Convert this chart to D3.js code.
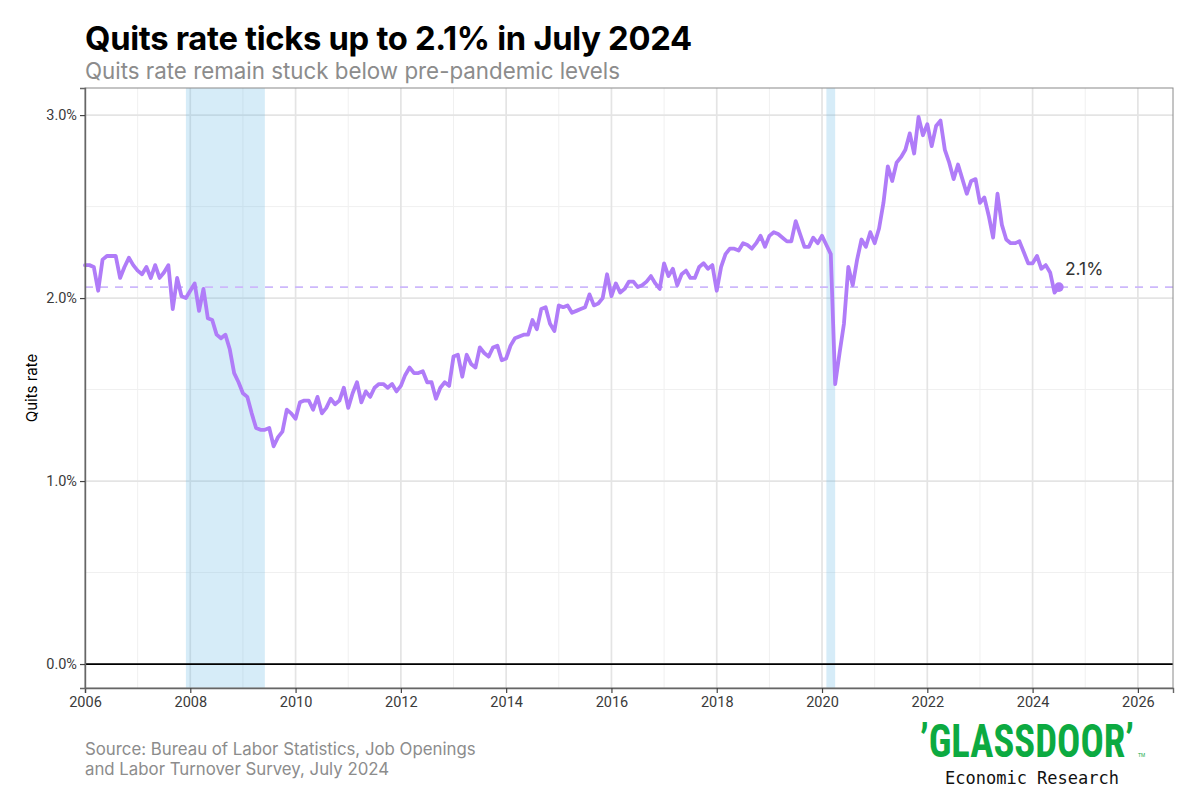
<!DOCTYPE html>
<html><head><meta charset="utf-8">
<script src="https://cdn.jsdelivr.net/npm/d3@7"></script>
<style>body{margin:0;background:#fff}svg{display:block}</style>
</head><body><svg id="c" width="1200" height="800"></svg>
<script>
// ---- data ----
const startYear = 2006; // first observation: January 2006, monthly
const quitsRate = [
2.18,2.18,2.17,2.04,2.21,2.23,2.23,2.23,2.11,2.17,2.22,2.18,
2.15,2.13,2.17,2.11,2.18,2.11,2.14,2.18,1.94,2.11,2.01,2.00,
2.04,2.08,1.93,2.05,1.89,1.88,1.80,1.78,1.80,1.72,1.59,1.54,
1.48,1.46,1.37,1.29,1.28,1.28,1.29,1.19,1.24,1.27,1.39,1.37,
1.34,1.43,1.44,1.44,1.39,1.46,1.37,1.40,1.45,1.42,1.44,1.51,
1.40,1.48,1.54,1.43,1.49,1.46,1.51,1.53,1.53,1.51,1.53,1.49,
1.52,1.58,1.62,1.59,1.59,1.60,1.54,1.54,1.45,1.51,1.54,1.52,
1.68,1.69,1.57,1.69,1.64,1.62,1.73,1.70,1.68,1.73,1.74,1.66,
1.67,1.74,1.78,1.79,1.80,1.80,1.88,1.83,1.94,1.95,1.86,1.82,
1.96,1.95,1.96,1.92,1.93,1.94,1.95,2.02,1.96,1.97,2.00,2.13,
2.01,2.08,2.03,2.05,2.09,2.09,2.06,2.07,2.09,2.12,2.08,2.05,
2.19,2.12,2.16,2.07,2.13,2.15,2.11,2.11,2.17,2.19,2.16,2.18,
2.04,2.17,2.24,2.27,2.27,2.26,2.30,2.29,2.27,2.30,2.34,2.28,
2.34,2.36,2.35,2.33,2.31,2.31,2.42,2.35,2.28,2.28,2.33,2.30,
2.34,2.29,2.24,1.53,1.70,1.86,2.17,2.07,2.21,2.32,2.28,2.36,
2.30,2.38,2.52,2.72,2.64,2.74,2.77,2.81,2.90,2.79,2.99,2.89,
2.95,2.83,2.94,2.97,2.81,2.74,2.65,2.73,2.65,2.57,2.64,2.65,
2.52,2.55,2.45,2.33,2.57,2.40,2.32,2.30,2.30,2.31,2.25,2.19,
2.19,2.23,2.16,2.18,2.14,2.03,2.06
];
const recessionStart = [2007 + 11/12, 2020 + 1/12];
const recessionEnd   = [2009 + 5/12,  2020 + 3/12];
const xTickYears = [2006,2008,2010,2012,2014,2016,2018,2020,2022,2024,2026];
const xMinorYears = [2007,2009,2011,2013,2015,2017,2019,2021,2023,2025];
const yTickValues = [0,1,2,3];
const yMinorValues = [0.5,1.5,2.5];
const lastLabel = "2.1%";

const series = quitsRate.map((v,i)=>({t: startYear + i/12, v}));
const last = series[series.length-1];

// ---- layout ----
const svg = d3.select("#c");
const L=85, R=1173, T=88, B=688;
const x = d3.scaleLinear().domain([2006, 2026.667]).range([L, R]);
const y = d3.scaleLinear().domain([-0.131, 3.148]).range([B, T]);

svg.append("rect").attr("width",1200).attr("height",800).attr("fill","#fff");

function fitText(sel, w){
  const n = sel.node(); const len = n.getComputedTextLength();
  const fs = parseFloat(sel.attr("font-size"));
  const nfs = fs*w/len;
  sel.attr("font-size", nfs.toFixed(2));
  return nfs;
}

// titles
const title = svg.append("text").attr("x",L).attr("y",50)
  .attr("font-family","Inter, 'Noto Sans', sans-serif").attr("font-weight",700)
  .attr("font-size",28).attr("fill","#000").attr("letter-spacing","-0.3")
  .text("Quits rate ticks up to 2.1% in July 2024");
fitText(title, 605);
const sub = svg.append("text").attr("x",L).attr("y",79)
  .attr("font-family","Inter, 'Noto Sans', sans-serif").attr("font-weight",400)
  .attr("font-size",20).attr("fill","#8c8c8c")
  .text("Quits rate remain stuck below pre-pandemic levels");
fitText(sub, 535);

// grid
const g = svg.append("g");
g.selectAll(".xmin").data(xMinorYears).join("line")
  .attr("x1",d=>x(d)).attr("x2",d=>x(d)).attr("y1",T).attr("y2",B)
  .attr("stroke","#f0f0f0").attr("stroke-width",1);
g.selectAll(".ymin").data(yMinorValues).join("line")
  .attr("x1",L).attr("x2",R).attr("y1",d=>y(d)).attr("y2",d=>y(d))
  .attr("stroke","#f0f0f0").attr("stroke-width",1);
g.selectAll(".xmaj").data(xTickYears).join("line")
  .attr("x1",d=>x(d)).attr("x2",d=>x(d)).attr("y1",T).attr("y2",B)
  .attr("stroke","#e4e4e4").attr("stroke-width",1.7);
g.selectAll(".ymaj").data(yTickValues).join("line")
  .attr("x1",L).attr("x2",R).attr("y1",d=>y(d)).attr("y2",d=>y(d))
  .attr("stroke","#e4e4e4").attr("stroke-width",1.7);

// recession bands
g.selectAll(".band").data(recessionStart).join("rect")
  .attr("x",(d)=>x(d)).attr("width",(d,i)=>x(recessionEnd[i])-x(d))
  .attr("y",T).attr("height",B-T)
  .attr("fill","#5bb4e5").attr("fill-opacity",0.25);

// zero line
g.append("line").attr("x1",L).attr("x2",R).attr("y1",y(0)).attr("y2",y(0))
  .attr("stroke","#000").attr("stroke-width",1.7);

// reference dashed line at latest value
g.append("line").attr("x1",L).attr("x2",R).attr("y1",y(last.v)).attr("y2",y(last.v))
  .attr("stroke","#cdb8fb").attr("stroke-width",1.7).attr("stroke-dasharray","8,7");

// series line
g.append("path").datum(series)
  .attr("d", d3.line().x(d=>x(d.t)).y(d=>y(d.v)))
  .attr("fill","none").attr("stroke","#b07cf8").attr("stroke-width",3.8)
  .attr("stroke-linejoin","round").attr("stroke-linecap","round");
g.append("circle").attr("cx",x(last.t)).attr("cy",y(last.v)).attr("r",4.8).attr("fill","#b07cf8");
g.append("text").attr("x",x(last.t)+6).attr("y",y(last.v)-12)
  .attr("font-family","Inter, 'Noto Sans', sans-serif").attr("font-size",17.5)
  .attr("fill","#333").text(lastLabel);

// panel border
svg.append("rect").attr("x",L).attr("y",T).attr("width",R-L).attr("height",B-T)
  .attr("fill","none").attr("stroke","#8a8a8a").attr("stroke-width",1);

// axes
const xAxis = svg.append("g").attr("transform",`translate(0,${B})`)
  .call(d3.axisBottom(x).tickValues(xTickYears).tickFormat(d3.format("d")).tickSize(5).tickPadding(4));
const yAxis = svg.append("g").attr("transform",`translate(${L},0)`)
  .call(d3.axisLeft(y).tickValues(yTickValues).tickFormat(d=>d.toFixed(1)+"%").tickSize(5).tickPadding(3));
[xAxis,yAxis].forEach(a=>{
  a.select(".domain").attr("stroke","#666").attr("stroke-width",1.4);
  a.selectAll(".tick line").attr("stroke","#444").attr("stroke-width",1.2);
  a.selectAll(".tick text").attr("font-family","Roboto, 'Noto Sans', sans-serif")
    .attr("font-size",14.5).attr("fill","#3a3a3a");
});

svg.append("text").attr("transform",`translate(37,${(T+B)/2}) rotate(-90)`)
  .attr("text-anchor","middle").attr("font-family","Inter, 'Noto Sans', sans-serif")
  .attr("font-size",15).attr("fill","#000").text("Quits rate");

// source
const src1 = svg.append("text").attr("x",L).attr("y",755)
  .attr("font-family","Inter, 'Noto Sans', sans-serif").attr("font-size",16).attr("fill","#8c8c8c")
  .text("Source: Bureau of Labor Statistics, Job Openings");
fitText(src1, 391);
svg.append("text").attr("x",L).attr("y",775)
  .attr("font-family","Inter, 'Noto Sans', sans-serif").attr("font-size",src1.attr("font-size")).attr("fill","#8c8c8c")
  .text("and Labor Turnover Survey, July 2024");

// logo: fit width naturally, then stretch vertically
const logo = svg.append("text").attr("x",0).attr("y",0)
  .attr("font-family","'Liberation Sans Narrow', 'Roboto Condensed', 'DejaVu Sans Condensed', sans-serif")
  .attr("font-weight",700).attr("font-size",44).attr("fill","#0caa41")
  .text("\u2019GLASSDOOR\u2019");
const logoFs = fitText(logo, 214);
logo.attr("transform",`translate(920,757) scale(1,${(47/logoFs).toFixed(3)})`);
svg.append("text").attr("x",1138).attr("y",757).attr("font-family","sans-serif")
  .attr("font-size",5).attr("fill","#0caa41").text("TM");
svg.append("text").attr("x",1032).attr("y",784).attr("text-anchor","middle")
  .attr("font-family","'DejaVu Sans Mono', 'Liberation Mono', monospace")
  .attr("font-size",17).attr("fill","#111").text("Economic Research");
</script></body></html>
